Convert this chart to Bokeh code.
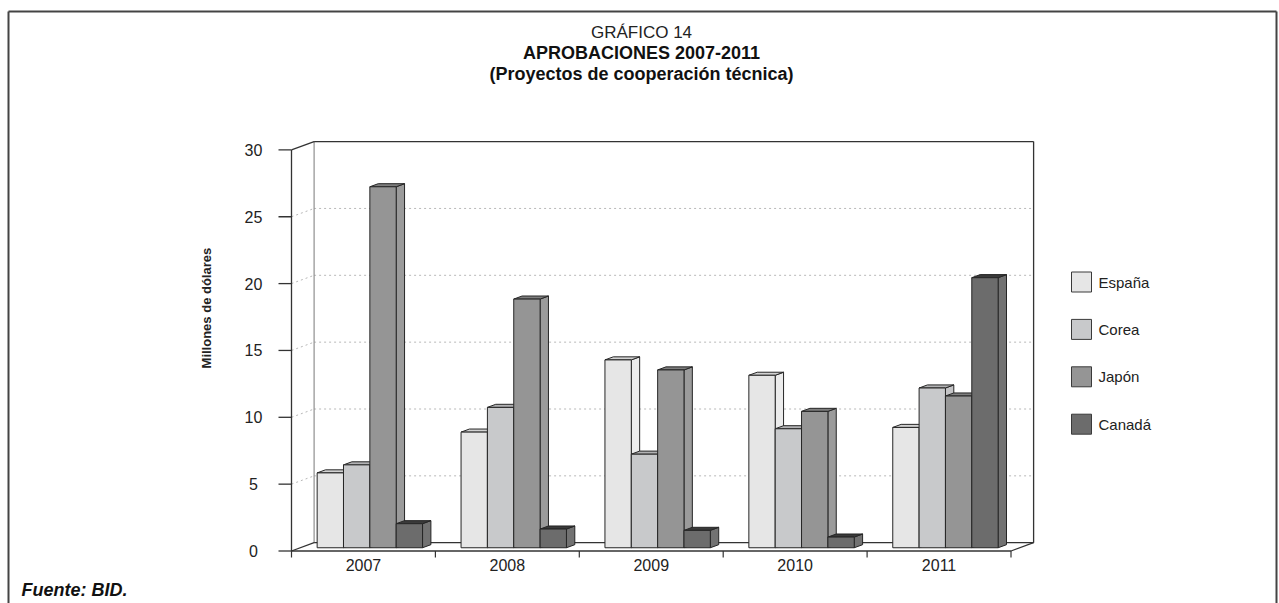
import math
from bokeh.plotting import figure
from bokeh.models import Range1d, ColumnDataSource
from bokeh.core.properties import value
from bokeh.embed import file_html
from bokeh.resources import INLINE

# ---- data (millones de dólares) ----
years = ["2007", "2008", "2009", "2010", "2011"]
series = ["España", "Corea", "Japón", "Canadá"]
espana = [5.6, 8.65, 14.05, 12.9, 9.0]
corea = [6.2, 10.5, 7.0, 8.9, 11.95]
japon = [27.0, 18.6, 13.3, 10.2, 11.35]
canada = [1.8, 1.4, 1.3, 0.8, 20.2]
y_ticks = [0, 5, 10, 15, 20, 25, 30]

front_colors = ["#e6e6e6", "#c8c9cb", "#959595", "#6c6c6c"]
side_colors = ["#ececec", "#c4c4c6", "#9b9b9b", "#727272"]
top_colors = ["#d2d2d2", "#b2b2b4", "#7e7e7e", "#3a3a3a"]

FONT = value("Liberation Sans")
INK = "#222222"
EDGE = "#262626"

# ---- page geometry ----
W, H = 1279, 603
X0, CAT = 291.0, 143.9      # left end of the category axis, width of one category
Y0, UNIT = 550.5, 13.37     # baseline of the value axis, pixels per million


def px_x(px):
    return (px - X0) / CAT


def px_y(py):
    return (Y0 - py) / UNIT


N = len(years)
YMAX = y_ticks[-1]
DX, DY = 22.6 / CAT, 8.3 / UNIT          # depth of the floor/back wall
Z0, ZD = 0.39, 0.37                       # bar front position and bar depth (fraction of DX/DY)
GAP, BW = 0.117, 0.1831                   # left gap and bar width within a category

p = figure(width=W, height=H,
           x_range=Range1d(px_x(0), px_x(W)), y_range=Range1d(px_y(H), px_y(0)),
           x_axis_type=None, y_axis_type=None,
           min_border=0, toolbar_location=None, output_backend="svg")
p.grid.visible = False
p.outline_line_color = None
p.background_fill_color = "white"
p.border_fill_color = "white"

# ---- outer frame of the figure ----
p.segment(x0=[px_x(8), px_x(8), px_x(1276)], y0=[px_y(11), px_y(11), px_y(11)],
          x1=[px_x(1276), px_x(8), px_x(1276)], y1=[px_y(11), px_y(620), px_y(620)],
          line_color="#444444", line_width=2)

# ---- dotted gridlines on the back wall and the side wall ----
grid_vals = y_ticks[1:-1]
p.segment(x0=[DX] * len(grid_vals), y0=[v + DY for v in grid_vals],
          x1=[N + DX] * len(grid_vals), y1=[v + DY for v in grid_vals],
          line_color="#b8b8b8", line_width=1, line_dash="2 3")
p.segment(x0=[0] * len(grid_vals), y0=grid_vals,
          x1=[DX] * len(grid_vals), y1=[v + DY for v in grid_vals],
          line_color="#b8b8b8", line_width=1, line_dash="2 3")

# ---- walls and floor ----
p.segment(x0=[DX], y0=[DY], x1=[DX], y1=[YMAX + DY], line_color="#8f8f8f", line_width=1.2)
p.segment(x0=[DX, N + DX, 0, DX, 0, N],
          y0=[YMAX + DY, DY, YMAX, DY, 0, 0],
          x1=[N + DX, N + DX, DX, N + DX, DX, N + DX],
          y1=[YMAX + DY, YMAX + DY, YMAX + DY, DY, DY, DY],
          line_color="#333333", line_width=1.3)

# ---- 3D columns ----
all_values = [espana, corea, japon, canada]
for k, vals in enumerate(all_values):
    xs, ys, cols = [], [], []
    lefts, rights, bottoms, tops = [], [], [], []
    for i, v in enumerate(vals):
        xl = i + GAP + k * BW + Z0 * DX
        xr = xl + BW
        yb = Z0 * DY
        yt = yb + v
        ddx, ddy = ZD * DX, ZD * DY
        xs.append([xr, xr + ddx, xr + ddx, xr])
        ys.append([yb, yb + ddy, yt + ddy, yt])
        cols.append(side_colors[k])
        xs.append([xl, xr, xr + ddx, xl + ddx])
        ys.append([yt, yt, yt + ddy, yt + ddy])
        cols.append(top_colors[k])
        lefts.append(xl)
        rights.append(xr)
        bottoms.append(yb)
        tops.append(yt)
    p.patches(xs="xs", ys="ys", fill_color="c", line_color=EDGE, line_width=1,
              source=ColumnDataSource(dict(xs=xs, ys=ys, c=cols)))
    p.quad(left=lefts, right=rights, bottom=bottoms, top=tops,
           fill_color=front_colors[k], line_color=EDGE, line_width=1)

# ---- axes ----
p.segment(x0=[0], y0=[0], x1=[0], y1=[YMAX], line_color="#333333", line_width=1.3)
p.segment(x0=[0], y0=[0], x1=[N], y1=[0], line_color="#333333", line_width=1.3)
p.segment(x0=[px_x(278)] * len(y_ticks), y0=y_ticks, x1=[0] * len(y_ticks), y1=y_ticks,
          line_color="#333333", line_width=1.3)
cat_edges = list(range(N + 1))
p.segment(x0=cat_edges, y0=[0] * len(cat_edges), x1=cat_edges, y1=[px_y(557)] * len(cat_edges),
          line_color="#333333", line_width=1.2)

p.text(x=[px_x(253)] * len(y_ticks), y=y_ticks, text=[str(v) for v in y_ticks],
       text_align="center", text_baseline="middle", text_font=FONT,
       text_font_size="16px", text_color=INK)
p.text(x=[i + 0.5 for i in range(N)], y=[px_y(564)] * N, text=years,
       text_align="center", text_baseline="middle", text_font=FONT,
       text_font_size="16px", text_color=INK)

p.text(x=[px_x(206)], y=[px_y(304)], text=["Millones  de  dólares"], angle=math.pi / 2,
       text_align="center", text_baseline="middle", text_font=FONT,
       text_font_size="13px", text_font_style="bold", text_color=INK)

# ---- titles ----
p.text(x=[px_x(641)], y=[px_y(32)], text=["GRÁFICO 14"], text_align="center",
       text_baseline="middle", text_font=FONT, text_font_size="17px", text_color=INK)
p.text(x=[px_x(641), px_x(641)], y=[px_y(52.5), px_y(73.5)],
       text=["APROBACIONES 2007-2011", "(Proyectos de cooperación técnica)"],
       text_align="center", text_baseline="middle", text_font=FONT,
       text_font_size="18px", text_font_style="bold", text_color="#111111")

# ---- legend ----
leg_y = [px_y(281.5 + 47.4 * k) for k in range(len(series))]
p.rect(x=[px_x(1081)] * len(series), y=leg_y, width=20, height=20,
       width_units="screen", height_units="screen",
       fill_color=front_colors, line_color="#3a3a3a", line_width=1)
p.text(x=[px_x(1098)] * len(series), y=leg_y, text=series, text_align="left",
       text_baseline="middle", text_font=FONT, text_font_size="15px", text_color=INK)

# ---- source note ----
p.text(x=[px_x(21)], y=[px_y(589)], text=["Fuente: BID."], text_align="left",
       text_baseline="middle", text_font=FONT, text_font_size="18px",
       text_font_style="bold italic", text_color="#111111")

open("out.html", "w").write(file_html(p, INLINE))
